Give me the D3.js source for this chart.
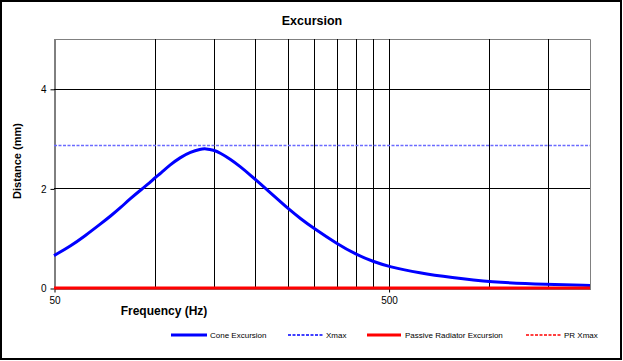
<!DOCTYPE html>
<html><head><meta charset="utf-8">
<script src="https://cdn.jsdelivr.net/npm/d3@7"></script>
<style>
html,body{margin:0;padding:0;background:#fff;}
svg{display:block;font-family:"Liberation Sans",Arial,sans-serif;}
</style></head>
<body><svg id="c" width="623" height="361"></svg>
<script>
const freqs = [50,56,62,69,74,79,84,92,97,100,104,111,119,128,137,142,150,157,168,180,193,207,222,237,250,273,300,350,400,450,500,620,770,1000,1500,2000];
const coneExcursion = [0.65,0.84,1.05,1.29,1.45,1.61,1.78,2.00,2.12,2.21,2.30,2.47,2.62,2.73,2.79,2.80,2.77,2.71,2.59,2.44,2.27,2.09,1.91,1.74,1.60,1.39,1.19,0.89,0.67,0.53,0.43,0.30,0.21,0.12,0.07,0.05];
const passiveExcursion = freqs.map(() => 0);
const xmax = 2.87;
const prXmax = 0;
const xTickLabels = [50, 500];
const xGrid = [100,150,200,250,300,350,400,450,500,1000,1500];
const yTicks = [0, 2, 4];
const legendLabels = ["Cone Excursion","Xmax","Passive Radiator Excursion","PR Xmax"];

const svg = d3.select("#c");
const L = 54, R = 590, T = 39, B = 288;
const x = d3.scaleLog().domain([50, 2000]).range([L, R]);
const y = d3.scaleLinear().domain([0, 5]).range([B, T]);

// outer border
svg.append("rect").attr("x",1).attr("y",1).attr("width",620).attr("height",358)
  .attr("fill","#fff").attr("stroke","#000").attr("stroke-width",2);

// title
svg.append("text").attr("x",312).attr("y",25).attr("text-anchor","middle")
  .attr("font-size",12.5).attr("font-weight","bold").text("Excursion");

// plot border (top/right gray)
svg.append("path").attr("d",`M${L},${T}.5H${R}.5V${B}`).attr("fill","none").attr("stroke","#808080").attr("stroke-width",1);

// vertical grid
svg.append("g").selectAll("line").data(xGrid).join("line")
  .attr("x1",d=>Math.round(x(d))+0.5).attr("x2",d=>Math.round(x(d))+0.5)
  .attr("y1",T).attr("y2",B).attr("stroke","#000").attr("stroke-width",1);

// horizontal grid
svg.append("g").selectAll("line").data(yTicks.filter(d=>d>0)).join("line")
  .attr("x1",L).attr("x2",R).attr("y1",d=>Math.round(y(d))+0.5).attr("y2",d=>Math.round(y(d))+0.5)
  .attr("stroke","#000").attr("stroke-width",1);

// y axis
const yAxis = d3.axisLeft(y).tickValues(yTicks).tickSize(4).tickSizeOuter(0).tickPadding(4).tickFormat(d3.format("d"));
const ya = svg.append("g").attr("transform",`translate(${L}.5,0.5)`).call(yAxis);
ya.select(".domain").attr("stroke","#000");
ya.selectAll("text").attr("font-size",10).attr("font-family","Liberation Sans, Arial, sans-serif");

// x axis
const xAxis = d3.axisBottom(x).tickValues(xTickLabels).tickSize(4).tickSizeOuter(0).tickPadding(4).tickFormat(d3.format("d"));
const xa = svg.append("g").attr("transform",`translate(0.5,${B}.5)`).call(xAxis);
xa.select(".domain").attr("stroke","#000");
xa.selectAll("text").attr("font-size",10).attr("font-family","Liberation Sans, Arial, sans-serif");

// axis titles
svg.append("text").attr("x",164).attr("y",315).attr("text-anchor","middle")
  .attr("font-size",12).attr("font-weight","bold").text("Frequency (Hz)");
svg.append("text").attr("transform","translate(21,161) rotate(-90)").attr("text-anchor","middle")
  .attr("font-size",11).attr("font-weight","bold").text("Distance (mm)");

// Xmax line
svg.append("line").attr("x1",L).attr("x2",R).attr("y1",Math.round(y(xmax))+0.5).attr("y2",Math.round(y(xmax))+0.5)
  .attr("stroke","#6b6bff").attr("stroke-width",1.4).attr("stroke-dasharray","3,1.5");

const line = d3.line().x((d,i)=>x(freqs[i])).y(d=>y(d)).curve(d3.curveBasis);

// PR Xmax
svg.append("line").attr("x1",L).attr("x2",R).attr("y1",y(prXmax)).attr("y2",y(prXmax))
  .attr("stroke","#ff0000").attr("stroke-width",1).attr("stroke-dasharray","3,1.5");

// cone
svg.append("path").datum(coneExcursion).attr("d",line).attr("fill","none")
  .attr("stroke","#0000ff").attr("stroke-width",3).attr("stroke-linejoin","round");

// passive radiator
svg.append("path").datum(passiveExcursion).attr("d",line).attr("fill","none")
  .attr("stroke","#ff0000").attr("stroke-width",3);

// legend
const legItems = [
  {x:171, w:36, color:"#0000ff", sw:3, dash:null, tx:210},
  {x:288, w:35, color:"#0000ff", sw:1.3, dash:"3,1.5", tx:326},
  {x:367, w:34, color:"#ff0000", sw:3, dash:null, tx:405},
  {x:526, w:35, color:"#ff0000", sw:1.3, dash:"3,1.5", tx:564}
];
const lg = svg.append("g");
legItems.forEach((it,i)=>{
  lg.append("line").attr("x1",it.x).attr("x2",it.x+it.w).attr("y1",335).attr("y2",335)
    .attr("stroke",it.color).attr("stroke-width",it.sw).attr("stroke-dasharray",it.dash);
  lg.append("text").attr("x",it.tx).attr("y",338).attr("font-size",8).text(legendLabels[i]);
});
</script></body></html>
